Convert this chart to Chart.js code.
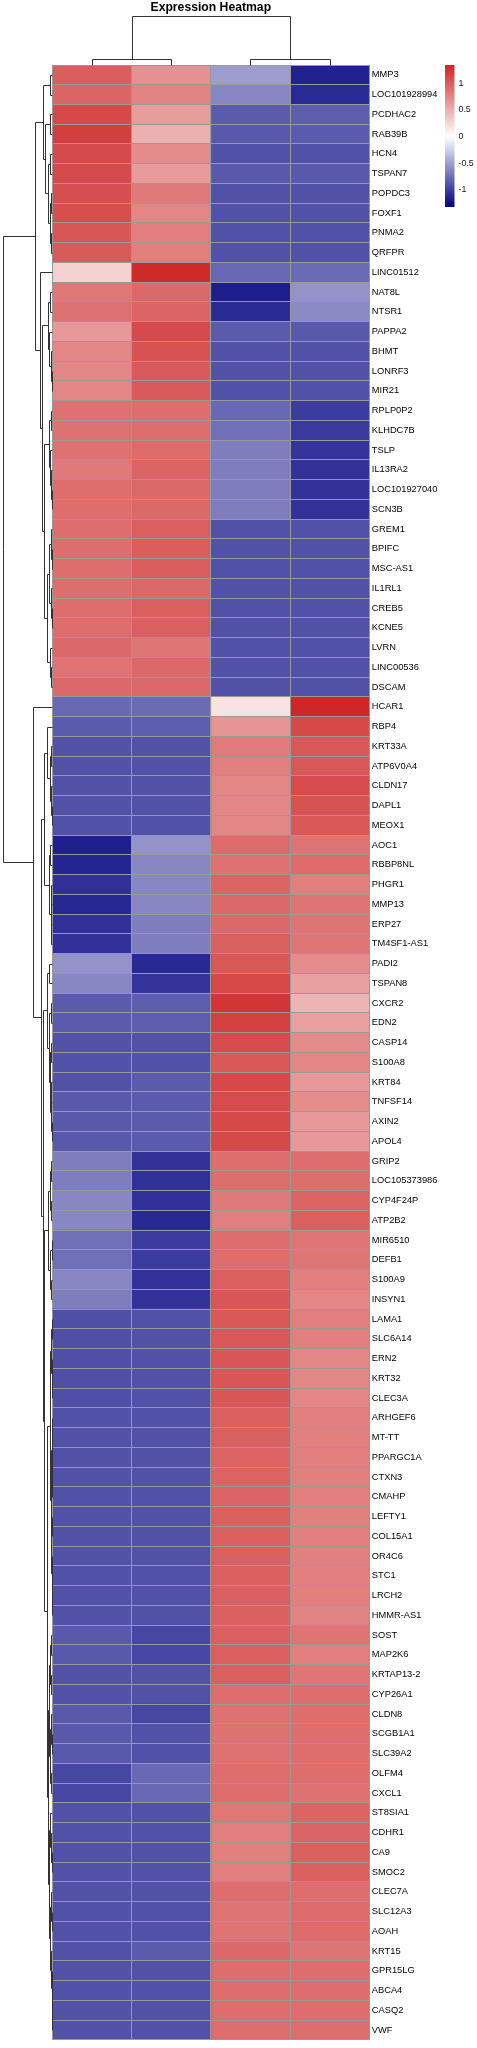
<!DOCTYPE html>
<html><head><meta charset="utf-8">
<script src="https://cdn.jsdelivr.net/npm/chart.js@4.4.0/dist/chart.umd.min.js"></script>
<style>html,body{margin:0;padding:0;background:#fff;}canvas{display:block;}</style>
</head><body>
<canvas id="c" width="477" height="2048"></canvas>
<script>
const chartTitle = "Expression Heatmap";
const genes = ["MMP3","LOC101928994","PCDHAC2","RAB39B","HCN4","TSPAN7","POPDC3","FOXF1","PNMA2","QRFPR",
"LINC01512","NAT8L","NTSR1","PAPPA2","BHMT","LONRF3","MIR21","RPLP0P2","KLHDC7B","TSLP",
"IL13RA2","LOC101927040","SCN3B","GREM1","BPIFC","MSC-AS1","IL1RL1","CREB5","KCNE5","LVRN",
"LINC00536","DSCAM","HCAR1","RBP4","KRT33A","ATP6V0A4","CLDN17","DAPL1","MEOX1","AOC1",
"RBBP8NL","PHGR1","MMP13","ERP27","TM4SF1-AS1","PADI2","TSPAN8","CXCR2","EDN2","CASP14",
"S100A8","KRT84","TNFSF14","AXIN2","APOL4","GRIP2","LOC105373986","CYP4F24P","ATP2B2","MIR6510",
"DEFB1","S100A9","INSYN1","LAMA1","SLC6A14","ERN2","KRT32","CLEC3A","ARHGEF6","MT-TT",
"PPARGC1A","CTXN3","CMAHP","LEFTY1","COL15A1","OR4C6","STC1","LRCH2","HMMR-AS1","SOST",
"MAP2K6","KRTAP13-2","CYP26A1","CLDN8","SCGB1A1","SLC39A2","OLFM4","CXCL1","ST8SIA1","CDHR1",
"CA9","SMOC2","CLEC7A","SLC12A3","AOAH","KRT15","GPR15LG","ABCA4","CASQ2","VWF"];

const sample1 = [1.00,0.96,1.13,1.19,1.12,1.12,1.09,1.09,1.05,1.02,
0.29,0.84,0.88,0.64,0.75,0.75,0.75,0.88,0.88,0.88,
0.83,0.90,0.90,0.90,0.90,0.90,0.90,0.90,0.90,0.93,
0.87,0.93,-0.78,-0.85,-0.90,-0.90,-0.90,-0.90,-0.90,-1.16,
-1.13,-1.07,-1.12,-1.07,-1.07,-0.56,-0.62,-0.85,-0.85,-0.90,
-0.90,-0.90,-0.86,-0.86,-0.86,-0.67,-0.67,-0.62,-0.62,-0.74,
-0.74,-0.62,-0.67,-0.91,-0.91,-0.91,-0.91,-0.91,-0.90,-0.90,
-0.90,-0.90,-0.90,-0.90,-0.90,-0.90,-0.90,-0.90,-0.90,-0.86,
-0.86,-0.90,-0.90,-0.86,-0.86,-0.86,-0.96,-0.96,-0.90,-0.90,
-0.90,-0.90,-0.90,-0.90,-0.90,-0.90,-0.90,-0.90,-0.90,-0.90];

const sample2 = [0.68,0.77,0.61,0.49,0.72,0.62,0.83,0.75,0.80,0.80,
1.32,0.93,0.96,1.12,1.07,1.02,1.02,0.90,0.90,0.92,
0.96,0.93,0.93,0.99,1.00,1.00,0.93,0.99,0.99,0.85,
0.93,0.93,-0.77,-0.84,-0.90,-0.90,-0.90,-0.90,-0.90,-0.56,
-0.62,-0.62,-0.62,-0.67,-0.67,-1.11,-1.05,-0.84,-0.84,-0.90,
-0.90,-0.85,-0.85,-0.85,-0.85,-1.06,-1.07,-1.07,-1.11,-1.01,
-1.01,-1.06,-1.06,-0.90,-0.90,-0.90,-0.90,-0.90,-0.90,-0.90,
-0.90,-0.90,-0.90,-0.90,-0.90,-0.90,-0.90,-0.90,-0.90,-0.96,
-0.96,-0.90,-0.90,-0.96,-0.90,-0.90,-0.78,-0.78,-0.90,-0.90,
-0.90,-0.90,-0.90,-0.90,-0.90,-0.85,-0.90,-0.90,-0.90,-0.90];

const sample3 = [-0.51,-0.62,-0.85,-0.86,-0.90,-0.86,-0.90,-0.90,-0.90,-0.90,
-0.78,-1.17,-1.10,-0.85,-0.90,-0.90,-0.90,-0.78,-0.74,-0.67,
-0.67,-0.67,-0.67,-0.90,-0.90,-0.90,-0.90,-0.90,-0.90,-0.90,
-0.90,-0.90,0.18,0.66,0.82,0.80,0.75,0.75,0.75,0.92,
0.88,0.96,0.93,0.93,0.99,1.04,1.13,1.25,1.18,1.11,
1.04,1.13,1.11,1.13,1.13,0.90,0.90,0.83,0.80,0.90,
0.90,0.99,1.05,1.04,1.04,1.05,1.05,1.05,0.99,0.99,
0.97,0.97,0.97,0.99,0.99,0.99,0.99,0.99,0.99,0.99,
0.99,0.99,0.90,0.88,0.88,0.88,0.90,0.90,0.84,0.80,
0.80,0.80,0.90,0.86,0.86,0.93,0.90,0.90,0.90,0.90];

const sample4 = [-1.15,-1.10,-0.84,-0.85,-0.90,-0.86,-0.90,-0.90,-0.90,-0.90,
-0.77,-0.56,-0.61,-0.86,-0.90,-0.90,-0.90,-1.01,-1.02,-1.05,
-1.06,-1.06,-1.06,-0.90,-0.90,-0.90,-0.90,-0.90,-0.90,-0.90,
-0.90,-0.90,1.34,1.13,1.04,1.04,1.11,1.07,1.04,0.87,
0.92,0.80,0.86,0.86,0.85,0.71,0.59,0.47,0.59,0.72,
0.75,0.64,0.71,0.64,0.64,0.90,0.90,0.96,0.99,0.85,
0.85,0.80,0.75,0.80,0.80,0.75,0.75,0.75,0.80,0.80,
0.80,0.80,0.80,0.80,0.80,0.80,0.80,0.80,0.77,0.86,
0.80,0.85,0.90,0.90,0.90,0.90,0.90,0.88,0.96,0.96,
0.99,0.99,0.90,0.92,0.92,0.86,0.90,0.90,0.90,0.90];

const legendTicks = [1, 0.5, 0, -0.5, -1];
const legendLabels = ["1", "0.5", "0", "-0.5", "-1"];
const scaleMin = -1.32, scaleMax = 1.345;

// row clustering tree: node = {h: merge height, a, b}; leaves are row indices
function N(h, a, b) { return {h: h, a: a, b: b}; }
const treeA = N(0.35,
    N(0.19, N(0.05, 0, 1),
      N(0.14, N(0.05, 2, 3),
        N(0.09, N(0.04, 4, 5), N(0.05, N(0.02, 6, 7), N(0.03, 8, 9))))),
    N(0.24, 10,
      N(0.21,
        N(0.08, N(0.04, 11, 12), N(0.06, 13, N(0.03, 14, N(0.01, 15, 16)))),
        N(0.17,
          N(0.07, N(0.02, 17, 18), N(0.04, 19, N(0.02, 20, N(0.01, 21, 22)))),
          N(0.11,
            N(0.06, N(0.03, 23, N(0.01, 24, 25)), N(0.03, 26, N(0.01, 27, 28))),
            N(0.05, 29, N(0.03, 30, 31)))))));
const b2a = N(0.17,
  N(0.10, 33, N(0.05, N(0.02, 34, 35), N(0.03, 36, N(0.01, 37, 38)))),
  N(0.07, N(0.04, 39, 40), N(0.03, N(0.02, 41, 42), N(0.02, 43, 44))));
const b2b1 = N(0.10, N(0.06, 45, 46),
  N(0.07, N(0.03, 47, 48),
    N(0.05, N(0.02, 49, 50), N(0.03, N(0.02, 51, 52), N(0.01, 53, 54)))));
const b2b2a = N(0.08,
  N(0.05, N(0.02, 55, 56), N(0.03, 57, 58)),
  N(0.05, N(0.01, 59, 60), N(0.03, 61, 62)));
const b2b2b1 = N(0.05,
  N(0.02, N(0.01, 63, 64), N(0.01, 65, N(0.005, 66, 67))),
  N(0.03,
    N(0.015, N(0.005, 68, 69), N(0.01, 70, N(0.005, 71, 72))),
    N(0.02, N(0.005, 73, 74), N(0.012, 75, N(0.008, 76, N(0.005, 77, 78))))));
const b2b2b2 = N(0.09,
  N(0.07,
    N(0.04, N(0.02, 79, 80), N(0.02, 81, 82)),
    N(0.05, N(0.02, 83, N(0.01, 84, 85)), N(0.02, 86, 87))),
  N(0.06,
    N(0.04, 88, N(0.02, 89, N(0.01, 90, 91))),
    N(0.05, N(0.02, 92, N(0.01, 93, 94)),
      N(0.02, 95, N(0.01, 96, N(0.005, 97, N(0.003, 98, 99)))))));
const b2b2 = N(0.16, b2b2a, N(0.11, b2b2b1, b2b2b2));
const treeB = N(0.39, 32, N(0.235, b2a, N(0.195, b2b1, b2b2)));
const rowTree = N(1.0, treeA, treeB);
const colTree = N(1.0, N(0.12, 0, 1), N(0.12, 2, 3));

function valueColor(v) {
  let r, g, b;
  if (v >= 0) { const t = Math.min(1, v / scaleMax); r = 255 - 50 * t; g = 255 - 217 * t; b = g; }
  else { const t = Math.min(1, v / scaleMin); r = 255 * (1 - t); g = r; b = 255 - 127 * t; }
  return 'rgb(' + Math.round(r) + ',' + Math.round(g) + ',' + Math.round(b) + ')';
}

const samples = [sample1, sample2, sample3, sample4];
const FONT = "'Liberation Sans', Arial, sans-serif";

const decorPlugin = {
  id: 'decor',
  afterDraw(chart) {
    const {ctx, chartArea, scales} = chart;
    const xs = scales.x, ys = scales.y;
    const rowW = chartArea.left - 2.7;
    const colH = chartArea.top - 16;
    const al = v => Math.round(v) + 0.5;
    ctx.save();
    // title
    ctx.fillStyle = '#000';
    ctx.font = 'bold 12.2px ' + FONT;
    ctx.textAlign = 'center';
    ctx.textBaseline = 'middle';
    ctx.fillText(chartTitle, (chartArea.left + chartArea.right) / 2, 7.6);
    ctx.strokeStyle = '#333';
    ctx.lineWidth = 1;
    function line(x1, y1, x2, y2) {
      ctx.beginPath(); ctx.moveTo(al(x1), al(y1)); ctx.lineTo(al(x2), al(y2)); ctx.stroke();
    }
    function rowNode(n) {
      if (typeof n === 'number') return {x: chartArea.left, y: ys.getPixelForValue(n)};
      const a = rowNode(n.a), b = rowNode(n.b);
      const nx = chartArea.left - n.h * rowW;
      line(nx, a.y, nx, b.y); line(nx, a.y, a.x, a.y); line(nx, b.y, b.x, b.y);
      return {x: nx, y: (a.y + b.y) / 2};
    }
    function colNode(n) {
      if (typeof n === 'number') return {x: xs.getPixelForValue(n + 0.5), y: chartArea.top};
      const a = colNode(n.a), b = colNode(n.b);
      const ny = chartArea.top - n.h * colH;
      line(a.x, ny, b.x, ny); line(a.x, ny, a.x, a.y); line(b.x, ny, b.x, b.y);
      return {x: (a.x + b.x) / 2, y: ny};
    }
    rowNode(rowTree);
    colNode(colTree);
    // colour key
    const lx = 445, lw = 9.5, lt = chartArea.top, lh = 142;
    const grad = ctx.createLinearGradient(0, lt, 0, lt + lh);
    for (let i = 0; i <= 40; i++) {
      const v = scaleMax - (scaleMax - scaleMin) * i / 40;
      grad.addColorStop(i / 40, valueColor(v));
    }
    ctx.fillStyle = grad;
    ctx.fillRect(lx, lt, lw, lh);
    ctx.fillStyle = '#111';
    ctx.font = '8.8px ' + FONT;
    ctx.textBaseline = 'middle';
    ctx.textAlign = 'left';
    legendTicks.forEach((v, i) => {
      const yy = lt + (scaleMax - v) / (scaleMax - scaleMin) * lh;
      ctx.fillText(legendLabels[i], 458.5, yy);
    });
    ctx.restore();
  }
};

new Chart(document.getElementById('c'), {
  type: 'bar',
  data: {
    labels: genes,
    datasets: samples.map((vals, c) => ({
      data: vals.map(() => [c, c + 1]),
      backgroundColor: vals.map(valueColor),
      borderWidth: 0,
      barPercentage: 1,
      categoryPercentage: 1,
      grouped: false
    }))
  },
  options: {
    responsive: false,
    animation: false,
    events: [],
    indexAxis: 'y',
    layout: {padding: {left: 52.3, right: 0, top: 65, bottom: 4.7}},
    plugins: {
      legend: {display: false},
      tooltip: {enabled: false},
      title: {display: false}
    },
    scales: {
      x: {
        type: 'linear', min: 0, max: 4, position: 'bottom',
        ticks: {display: false, stepSize: 1},
        grid: {color: '#999', lineWidth: 1, drawTicks: false, z: 1},
        border: {display: false}
      },
      y: {
        type: 'category', position: 'right', offset: true,
        grid: {offset: true, color: '#999', lineWidth: 1, drawTicks: false, z: 1},
        border: {display: false},
        ticks: {font: {family: FONT, size: 9.3}, color: '#000', padding: 2.5, autoSkip: false, z: 1},
        afterFit(s) { s.width = 107.7; }
      }
    }
  },
  plugins: [decorPlugin]
});
</script>
</body></html>
